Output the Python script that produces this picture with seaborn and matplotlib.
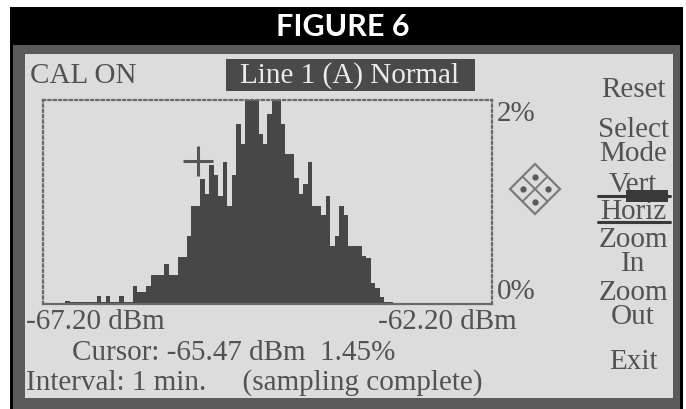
import numpy as np
import pandas as pd
import matplotlib
matplotlib.use("Agg")
import matplotlib.pyplot as plt
from matplotlib.patches import Rectangle, Polygon
import seaborn as sns

# ---------------- data ----------------
x_min_dbm = -67.20
x_max_dbm = -62.20
n_bins = 100
# percentage of samples in each 0.05 dBm bin, left to right
bin_pct = [
    0.01, 0.01, 0.01, 0.01, 0.01, 0.03, 0.02, 0.02, 0.02, 0.02,
    0.02, 0.02, 0.075, 0.02, 0.075, 0.02, 0.02, 0.075, 0.02, 0.02,
    0.18, 0.12, 0.12, 0.18, 0.28, 0.28, 0.28, 0.39, 0.28, 0.28,
    0.46, 0.46, 0.67, 0.96, 0.96, 1.23, 1.08, 1.36, 1.26, 1.06,
    1.39, 0.96, 1.26, 1.76, 1.57, 2.00, 2.00, 2.00, 1.67, 1.57,
    1.86, 2.00, 2.00, 1.76, 1.47, 1.47, 1.24, 1.08, 1.18, 1.39,
    0.96, 0.96, 0.87, 1.06, 0.57, 0.67, 0.96, 0.87, 0.57, 0.57,
    0.57, 0.47, 0.45, 0.21, 0.16, 0.07, 0.02, 0.02, 0.0, 0.0,
    0.0, 0.0, 0.0, 0.0, 0.0, 0.0, 0.0, 0.0, 0.0, 0.0,
    0.0, 0.0, 0.0, 0.0, 0.0, 0.0, 0.0, 0.0, 0.0, 0.0,
]
y_max_pct = 2.0
cursor_dbm = -65.47
cursor_pct_label = 1.45
cursor_marker_pct = 1.40
title = "FIGURE 6"
status_left = "CAL ON"
channel_label = "Line 1 (A) Normal"
x_tick_labels = ["-67.20 dBm", "-62.20 dBm"]
y_tick_labels = ["2%", "0%"]
menu_items = ["Reset", "Select", "Mode", "Vert", "Horiz", "Zoom", "In", "Zoom", "Out", "Exit"]
interval_text = "Interval: 1 min.     (sampling complete)"

# ---------------- style ----------------
sns.set_theme(style="white")
plt.rcParams["font.family"] = ["Liberation Serif", "DejaVu Serif"]

W, H = 686, 410
SCREEN = "#dcdcdc"
INK = "#525252"
BAR = "#474747"
FS = 21

fig = plt.figure(figsize=(W / 100, H / 100), dpi=100, facecolor="white")

# background layer in pixel coordinates
bg = fig.add_axes([0, 0, 1, 1])
bg.set_xlim(0, W)
bg.set_ylim(H, 0)
bg.axis("off")

def rect(x0, y0, x1, y1, color, z=0):
    bg.add_patch(Rectangle((x0, y0), x1 - x0, y1 - y0, facecolor=color,
                           edgecolor="none", zorder=z))

rect(10, 8, 683, 46, "black")
rect(10, 46, 683, 410, "black")
rect(13, 46, 680, 410, "#5a5a5a")
rect(25, 55, 673, 399, SCREEN)

bg.text(343, 27, title, ha="center", va="center", color="white",
        fontsize=22, family=["Lato", "DejaVu Sans"], fontweight="bold")

bg.text(30, 76, status_left, ha="left", va="center", color=INK, fontsize=FS)
rect(226, 60, 475, 92, "#4a4a4a", z=1)
bg.text(350, 76, channel_label, ha="center", va="center", color="#ececec",
        fontsize=FS, zorder=2)

# right menu
menu_y = [90, 130, 154, 185, 212, 240, 264, 293, 317, 362]
for label, yy in zip(menu_items, menu_y):
    bg.text(633, yy, label, ha="center", va="center", color=INK, fontsize=FS, zorder=3)
bg.plot([598, 670], [197, 197], color="#3a3a3a", lw=2.2, zorder=4)
rect(626, 191, 668, 203, "#3a3a3a", z=4)
bg.plot([598, 670], [223, 223], color="#3a3a3a", lw=2.2, zorder=4)

# direction pad (diamond)
cx, cy, r = 535, 190, 25
c = "#7a7a7a"
bg.add_patch(Polygon([(cx - r, cy), (cx, cy - r), (cx + r, cy), (cx, cy + r)],
                     closed=True, fill=False, edgecolor=c, lw=1.6, zorder=3))
h = r / 2
bg.plot([cx - h, cx + h], [cy - h, cy + h], color=c, lw=1.4, zorder=3)
bg.plot([cx - h, cx + h], [cy + h, cy - h], color=c, lw=1.4, zorder=3)
for dx, dy in [(0, -h), (0, h), (-h, 0), (h, 0)]:
    bg.plot(cx + dx, cy + dy, marker="o", ms=3.5, color="#5a5a5a", zorder=3)

# bottom texts
bg.text(72, 353, f"Cursor: {cursor_dbm:.2f} dBm  {cursor_pct_label:.2f}%",
        ha="left", va="center", color=INK, fontsize=FS)
bg.text(26, 383, interval_text, ha="left", va="center", color=INK, fontsize=FS)

# ---------------- histogram ----------------
L, R, T, B = 43, 492, 101, 305
ax = fig.add_axes([L / W, (H - B) / H, (R - L) / W, (B - T) / H])
ax.set_facecolor("none")

edges = np.linspace(x_min_dbm, x_max_dbm, n_bins + 1)
centers = (edges[:-1] + edges[1:]) / 2
df = pd.DataFrame({"dbm": centers, "pct": bin_pct})
sns.histplot(data=df, x="dbm", weights="pct", bins=n_bins,
             binrange=(x_min_dbm, x_max_dbm), element="step",
             fill=True, color=BAR, alpha=1.0, linewidth=0, ax=ax)
ax.set_xlim(x_min_dbm, x_max_dbm)
ax.set_ylim(0, y_max_pct)
ax.set_xlabel("")
ax.set_ylabel("")
ax.set_xticks([])
ax.set_yticks([])
for side in ["top", "left", "right"]:
    ax.spines[side].set_visible(True)
    ax.spines[side].set_color("#6a6a6a")
    ax.spines[side].set_linewidth(1.6)
    ax.spines[side].set_linestyle((0, (1, 1.4)))
ax.spines["bottom"].set_color("#6a6a6a")
ax.spines["bottom"].set_linewidth(1.6)

ax.plot([cursor_dbm], [cursor_marker_pct], marker="+", ms=21, mew=2.2,
        color="#555555", zorder=5)

# axis range labels
ax.text(1.01, 1.0, y_tick_labels[0], transform=ax.transAxes, ha="left", va="top",
        color=INK, fontsize=FS)
ax.text(1.01, 0.0, y_tick_labels[1], transform=ax.transAxes, ha="left", va="bottom",
        color=INK, fontsize=FS)
ax.text(-0.037, -0.02, x_tick_labels[0], transform=ax.transAxes, ha="left", va="top",
        color=INK, fontsize=FS)
ax.text(1.055, -0.02, x_tick_labels[1], transform=ax.transAxes, ha="right", va="top",
        color=INK, fontsize=FS)

fig.savefig("out.png", dpi=100, facecolor="white")
